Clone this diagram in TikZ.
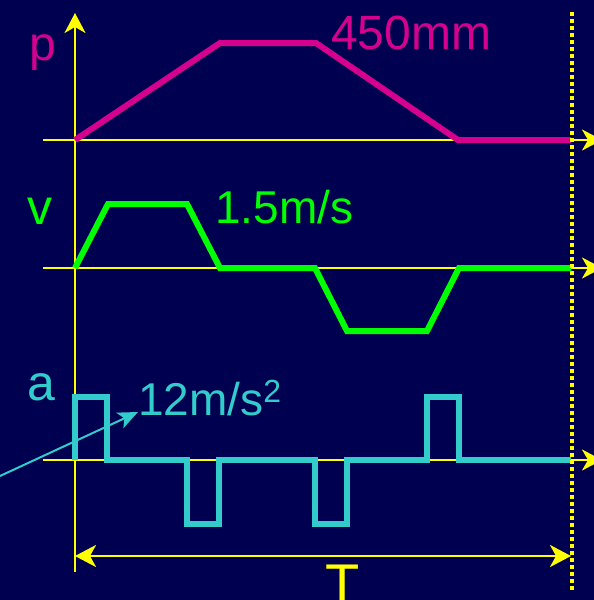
\documentclass[tikz,border=0pt]{standalone}
\usepackage{fontspec}
\setmainfont{Liberation Sans}
\usetikzlibrary{arrows.meta}
\definecolor{col_000050}{RGB}{0,0,80}
\definecolor{col_FFFF00}{RGB}{255,255,0}
\definecolor{col_D6008F}{RGB}{214,0,143}
\definecolor{col_00FF00}{RGB}{0,255,0}
\definecolor{col_33CCCC}{RGB}{51,204,204}
\newcommand{\tikzdrawaxis}[1]{%
\draw[axisline, -{Stealth[length=20pt,width=21pt,inset=6pt]}] (43,#1) -- (602,#1);
}
\newcommand{\txtsize}[1]{\fontsize{#1}{#1}\selectfont}

\begin{document}
\begin{tikzpicture}[x=1pt,y=-1pt,
  axisline/.style={col_FFFF00, line width=2.5pt},
  pcurve/.style={col_D6008F, line width=6pt, line join=miter},
  vcurve/.style={col_00FF00, line width=6pt, line join=miter},
  acurve/.style={col_33CCCC, line width=6pt, line join=miter},
  pointer/.style={col_33CCCC, line width=2pt, -{Stealth[length=20pt,width=17pt,inset=5pt]}},
  endline/.style={col_FFFF00, line width=3.5pt, dash pattern=on 4pt off 3pt},
  label/.style={inner sep=0pt, anchor=base west}]
\fill[col_000050] (0,0) rectangle (594,600);     %% background
\useasboundingbox (0,0) rectangle (594,600);
\draw[axisline, -{Stealth[length=20pt,width=21pt,inset=6pt]}] (75,572) -- (75,13);     %% time origin
\tikzdrawaxis{140}
\tikzdrawaxis{268}
\tikzdrawaxis{460}
\draw[axisline, {Stealth[length=21pt,width=22pt,inset=6pt]}-{Stealth[length=21pt,width=22pt,inset=6pt]}] (75,556) -- (571,556);     %% period
\draw[pcurve] (75,140) -- (220,43) -- (316,43) -- (458,140) -- (571,140);     %% position
\draw[vcurve] (75,268) -- (108,204) -- (187,204) -- (220,268) -- (315,268) -- (347,331) -- (427,331) -- (459,268) -- (571,268);     %% velocity
\draw[acurve] (75,460) -- (75,397) -- (107,397) -- (107,460) -- (187,460) -- (187,524) -- (219,524) -- (219,460) -- (315,460) -- (315,524) -- (347,524) -- (347,460) -- (427,460) -- (427,397) -- (459,397) -- (459,460) -- (571,460);     %% acceleration
\draw[endline] (572,12) -- (572,590);
\node[label, col_D6008F, font=\txtsize{48}] (plabel) at (29,60) {p};
\node[label, col_00FF00, font=\txtsize{50}] (vlabel) at (27,224) {v};
\node[label, col_33CCCC, font=\txtsize{50}] (alabel) at (27,400) {a};
\node[label, col_D6008F, font=\txtsize{48}] (pval) at (331,49) {450mm};
\node[label, col_00FF00, font=\txtsize{46}] (vval) at (215,223) {1.5m/s};
\node[label, col_33CCCC, font=\txtsize{46}] (aval) at (138,415) {12m/s\raisebox{13pt}{\txtsize{32}2}};
\node[inner sep=0pt, anchor=base, col_FFFF00, font=\txtsize{56}] (Tlabel) at (343,603) {T};
\coordinate (atail) at (0,476);
\draw[pointer] (atail) -- ([yshift=3pt]aval.base west);
\end{tikzpicture}
\end{document}
